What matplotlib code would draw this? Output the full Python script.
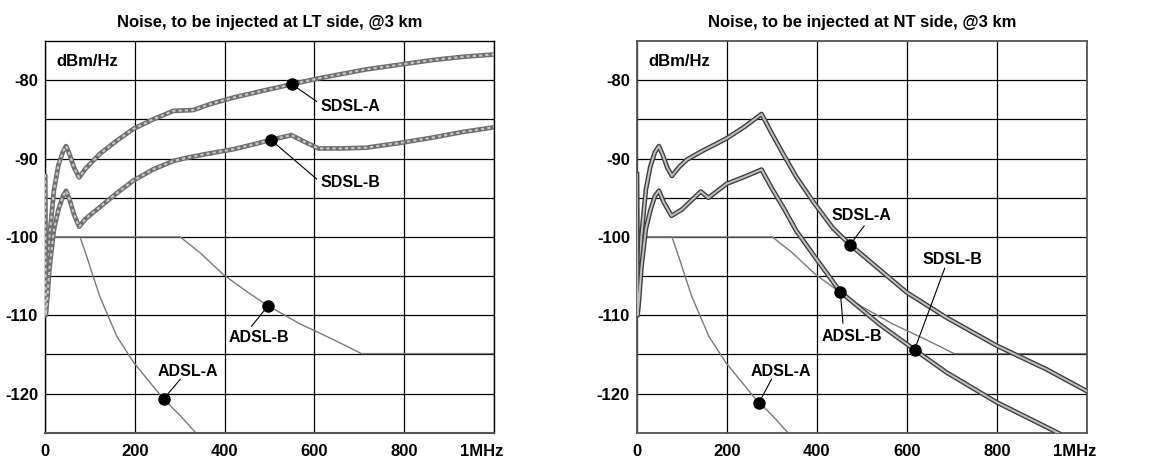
import matplotlib
matplotlib.use('Agg')
import matplotlib.pyplot as plt
import matplotlib.transforms as mtransforms

plt.rcParams['font.family'] = ['Liberation Sans', 'DejaVu Sans']
plt.rcParams['font.weight'] = 'bold'
plt.rcParams['axes.unicode_minus'] = False

# frequency in kHz, level in dBm/Hz
freq_sdsl_a_lt = [0, 1.5, 5, 10, 20, 30, 40, 47, 55, 65, 76, 90, 122, 160, 197, 240, 286, 330,
                  370, 420, 480, 550, 605, 660, 716, 790, 865, 930, 1000]
val_sdsl_a_lt = [-92, -110, -106, -100, -94, -90.8, -89.1, -88.4, -89.5, -91.2, -92.4, -91.3, -89.4,
                 -87.7, -86.2, -85.0, -83.9, -83.8, -83.0, -82.2, -81.4, -80.5, -79.8, -79.2, -78.6,
                 -78.0, -77.4, -77.0, -76.7]

freq_sdsl_b_lt = [0, 1.5, 5, 10, 20, 30, 40, 47, 55, 65, 76, 90, 122, 160, 197, 240, 286, 315, 360,
                  420, 470, 503, 549, 580, 609, 660, 716, 790, 865, 930, 1000]
val_sdsl_b_lt = [-92, -110, -108, -104, -99, -96.5, -94.8, -94.1, -95.3, -97.2, -98.7, -97.7, -96.2,
                 -94.4, -92.8, -91.4, -90.3, -89.9, -89.4, -88.8, -88.1, -87.6, -87.0, -87.9, -88.7,
                 -88.7, -88.6, -88.0, -87.3, -86.6, -86.0]

freq_sdsl_a_nt = [0, 1.5, 5, 10, 20, 30, 40, 49, 58, 68, 78, 95, 112, 146, 170, 200, 240, 277, 300,
                  327, 354, 393, 436, 474, 540, 600, 688, 800, 910, 1000]
val_sdsl_a_nt = [-92, -110, -106, -100, -94, -91, -89.2, -88.4, -89.6, -91.2, -92.2, -91.0, -90.1,
                 -89.0, -88.3, -87.4, -85.9, -84.3, -86.8, -89.6, -92.3, -95.6, -98.9, -101.0,
                 -104.2, -107.1, -110.3, -113.9, -116.9, -119.7]

freq_sdsl_b_nt = [0, 1.5, 5, 10, 20, 30, 40, 49, 60, 77, 100, 120, 142, 159, 200, 240, 277, 300,
                  327, 354, 400, 452, 540, 617, 688, 799, 928, 1000]
val_sdsl_b_nt = [-92, -110, -108, -104, -99, -96.6, -94.8, -94.1, -95.6, -97.3, -96.5, -95.4, -94.2,
                 -95.0, -93.2, -92.3, -91.4, -93.8, -96.4, -99.2, -102.9, -107.0, -111.2, -114.4,
                 -117.3, -121.1, -124.8, -127]

freq_adsl_a = [0, 78, 93, 122, 160, 197, 234, 264, 301, 334]
val_adsl_a = [-100, -100, -102.5, -107.6, -112.7, -116.0, -118.6, -120.7, -122.8, -124.9]

freq_adsl_b = [0, 301, 345, 397, 450, 497, 568, 642, 705, 1000]
val_adsl_b = [-100, -100, -102, -104.8, -107.0, -108.8, -111.1, -113.1, -114.9, -114.9]

# marked points: (freq, level)
marks_lt = {'SDSL-A': (550, -80.5), 'SDSL-B': (503, -87.6), 'ADSL-B': (497, -108.8), 'ADSL-A': (264, -120.7)}
marks_nt = {'SDSL-A': (474, -101.0), 'SDSL-B': (617, -114.4), 'ADSL-B': (452, -107.0), 'ADSL-A': (271, -121.2)}

x_ticks = [0, 200, 400, 600, 800, 1000]
x_labels = ['0', '200', '400', '600', '800', '1MHz']
y_ticks = [-80, -90, -100, -110, -120]
titles = ['Noise, to be injected at LT side, @3 km', 'Noise, to be injected at NT side, @3 km']

fig = plt.figure(figsize=(11.6, 4.59), dpi=100)
ax1 = fig.add_axes([0.0388, 0.0573, 0.387, 0.853])
ax2 = fig.add_axes([0.549, 0.0573, 0.388, 0.853])


def setup(ax, title):
    ax.set_xlim(0, 1000)
    ax.set_ylim(-125, -75)
    ax.set_xticks(x_ticks)
    ax.set_xticklabels(x_labels)
    ax.set_yticks(y_ticks)
    ax.set_yticks([-85, -95, -105, -115], minor=True)
    ax.grid(True, which='both', color='black', lw=0.9)
    ax.set_axisbelow(True)
    ax.tick_params(which='both', length=0, labelsize=12, pad=5)
    ax.tick_params(axis='x', pad=8)
    lab = ax.get_xticklabels()[-1]
    lab.set_transform(lab.get_transform() + mtransforms.ScaledTranslation(-12 / 100, 0, fig.dpi_scale_trans))
    ax.set_title(title, fontsize=12, fontweight='bold', pad=10)
    ax.text(26, -77.6, 'dBm/Hz', fontsize=12, fontweight='bold', va='center', ha='left')


def thick(ax, f, v, style):
    if style == 'lt':
        ax.plot(f, v, color='#707070', lw=3.4, solid_capstyle='butt', zorder=3)
        ax.plot(f, v, color='#c8c8c8', lw=1.5, dashes=(1.5, 1.5), zorder=3)
    else:
        ax.plot(f, v, color='#404040', lw=3.4, zorder=3)
        ax.plot(f, v, color='#c0c0c0', lw=1.4, zorder=3)


def label(ax, mark, end, txt_xy, text, ha='center'):
    ax.plot([mark[0], end[0]], [mark[1], end[1]], color='black', lw=0.8, zorder=4)
    ax.plot(mark[0], mark[1], 'o', color='black', ms=8, zorder=5)
    ax.text(txt_xy[0], txt_xy[1], text, fontsize=11.5, fontweight='bold', ha=ha, va='center', zorder=5)


for ax, t in zip([ax1, ax2], titles):
    setup(ax, t)
    ax.plot(freq_adsl_a, val_adsl_a, color='#7a7a7a', lw=1.0, zorder=2)
    ax.plot(freq_adsl_b, val_adsl_b, color='#7a7a7a', lw=1.0, zorder=2)

thick(ax1, freq_sdsl_a_lt, val_sdsl_a_lt, 'lt')
thick(ax1, freq_sdsl_b_lt, val_sdsl_b_lt, 'lt')
thick(ax2, freq_sdsl_a_nt, val_sdsl_a_nt, 'nt')
thick(ax2, freq_sdsl_b_nt, val_sdsl_b_nt, 'nt')

label(ax1, marks_lt['SDSL-A'], (605, -82.7), (613, -83.3), 'SDSL-A', ha='left')
label(ax1, marks_lt['SDSL-B'], (605, -92.6), (613, -93.1), 'SDSL-B', ha='left')
label(ax1, marks_lt['ADSL-B'], (460, -111.4), (477, -112.9), 'ADSL-B')
label(ax1, marks_lt['ADSL-A'], (301, -118.2), (319, -117.2), 'ADSL-A')

label(ax2, marks_nt['SDSL-A'], (505, -98.6), (500, -97.3), 'SDSL-A')
label(ax2, marks_nt['SDSL-B'], (684, -104.0), (702, -102.9), 'SDSL-B')
label(ax2, marks_nt['ADSL-B'], (458, -111.0), (477, -112.7), 'ADSL-B')
label(ax2, marks_nt['ADSL-A'], (299, -118.2), (321, -117.2), 'ADSL-A')

for s in ax1.spines.values():
    s.set_color('black')
    s.set_linewidth(1.0)
ax1.spines['bottom'].set_color('#555555')
ax1.spines['bottom'].set_linewidth(1.5)
for s in ax2.spines.values():
    s.set_color('#555555')
    s.set_linewidth(1.3)
    s.set_linestyle((0, (2, 1)))

plt.savefig('out.png', dpi=100)
